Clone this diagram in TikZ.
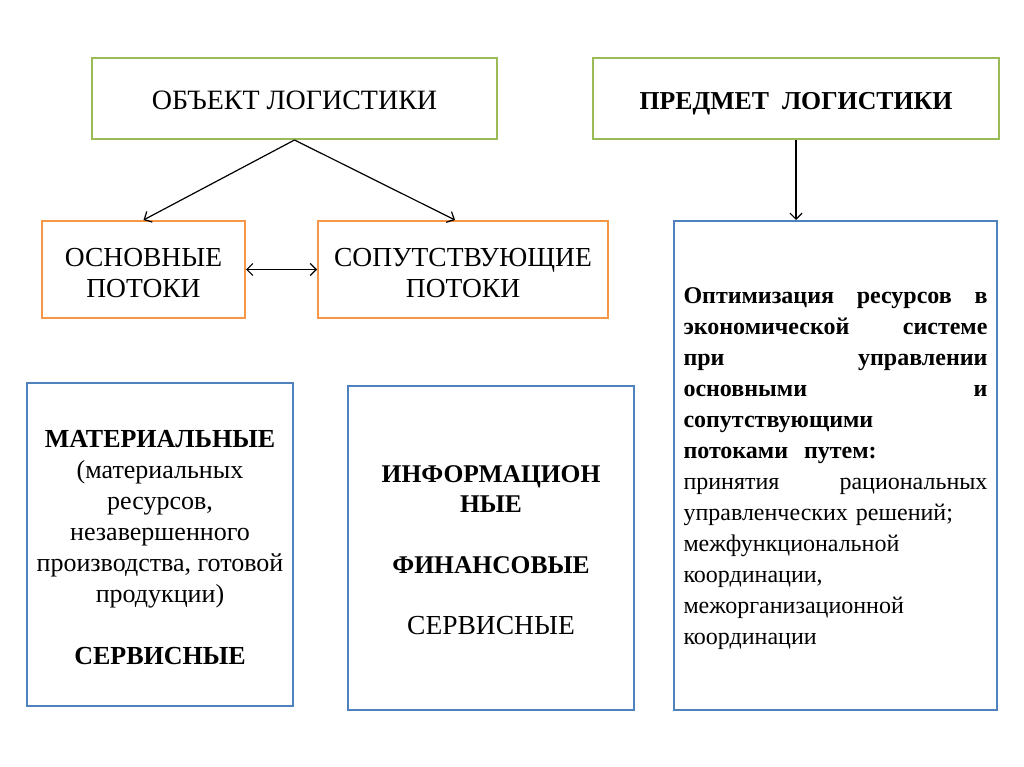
\documentclass[tikz,border=0pt]{standalone}
\usepackage{fontspec}
\setmainfont{Liberation Serif}
\usetikzlibrary{arrows.meta,calc}
\definecolor{gbox}{HTML}{9BBB59}
\definecolor{obox}{HTML}{F79646}
\definecolor{bbox}{HTML}{4F81BD}
\tikzset{
  txt/.style={font=\fontsize{24}{31}\selectfont},
  greenbox/.style={draw=gbox, line width=2pt, minimum width=405pt, minimum height=81pt, align=center, text height=24pt, text depth=2pt},
  orangebox/.style={draw=obox, line width=2pt, minimum height=97pt, font=\fontsize{27.5}{30.5}\selectfont, align=center},
  bluebox/.style={draw=bbox, line width=2pt, txt, align=center},
  conn/.style={draw=black, line width=1.2pt, -{Straight Barb[length=6pt,width=12pt]}},
  conn2/.style={draw=black, line width=1.2pt, {Straight Barb[length=6pt,width=12pt]}-{Straight Barb[length=6pt,width=12pt]}}
}
\newcommand{\topstrut}[1]{\rule{0pt}{#1}}
\begin{document}
\begin{tikzpicture}[x=1pt,y=1pt]
\useasboundingbox[fill=white] (0,0) rectangle (1024,-767);
\node[greenbox, font=\fontsize{28}{30}\selectfont] (obj) at (294.5,-98.5) {ОБЪЕКТ ЛОГИСТИКИ};
\node[greenbox, minimum width=406pt, font=\fontsize{25.8}{30}\selectfont] (pred) at (796,-98.5) {\textbf{ПРЕДМЕТ \ ЛОГИСТИКИ}};
\node[orangebox, minimum width=203pt] (osn) at (143.5,-269.5) {\topstrut{25.5pt}ОСНОВНЫЕ\\ПОТОКИ};
\node[orangebox, minimum width=290pt] (sop) at (463,-269.5) {\topstrut{25.5pt}СОПУТСТВУЮЩИЕ\\ПОТОКИ};
\node[bluebox, minimum width=266pt, minimum height=323pt, font=\fontsize{26}{31}\selectfont] (mat) at (160,-544.5)
  {\topstrut{22.5pt}\textbf{МАТЕРИАЛЬНЫЕ}\\(материальных\\ресурсов,\\незавершенного\\производства, готовой\\продукции)\\[31pt]\textbf{СЕРВИСНЫЕ}};
\node[bluebox, minimum width=286pt, minimum height=324pt, font=\fontsize{25.5}{30}\selectfont] (inf) at (491,-548)
  {\topstrut{21pt}\textbf{ИНФОРМАЦИОН}\\\textbf{НЫЕ}\\[31pt]\textbf{ФИНАНСОВЫЕ}\\[31pt]{\fontsize{27.5}{30}\selectfont СЕРВИСНЫЕ}};
\node[bluebox, align=left, text width=304pt, inner xsep=9.5pt, minimum height=489pt] (opt) at (835.5,-465.5)
  {\topstrut{23pt}\textbf{Оптимизация\hfill ресурсов\hfill в}\\
   \textbf{экономической\hfill системе}\\
   \textbf{при\hfill управлении}\\
   \textbf{основными\hfill и}\\
   \textbf{сопутствующими}\\
   \textbf{потоками\ \ путем:}\\
   принятия\hfill рациональных\\
   управленческих решений;\\
   межфункциональной\\
   координации,\\
   межорганизационной\\
   координации};
\draw[conn] (obj.south) -- (osn.north);
\draw[conn] (obj.south) -- ([xshift=-8pt]sop.north);
\draw[conn2] (osn.east) -- (sop.west);
\draw[conn] (pred.south) -- (pred.south |- opt.north);
\end{tikzpicture}
\end{document}
